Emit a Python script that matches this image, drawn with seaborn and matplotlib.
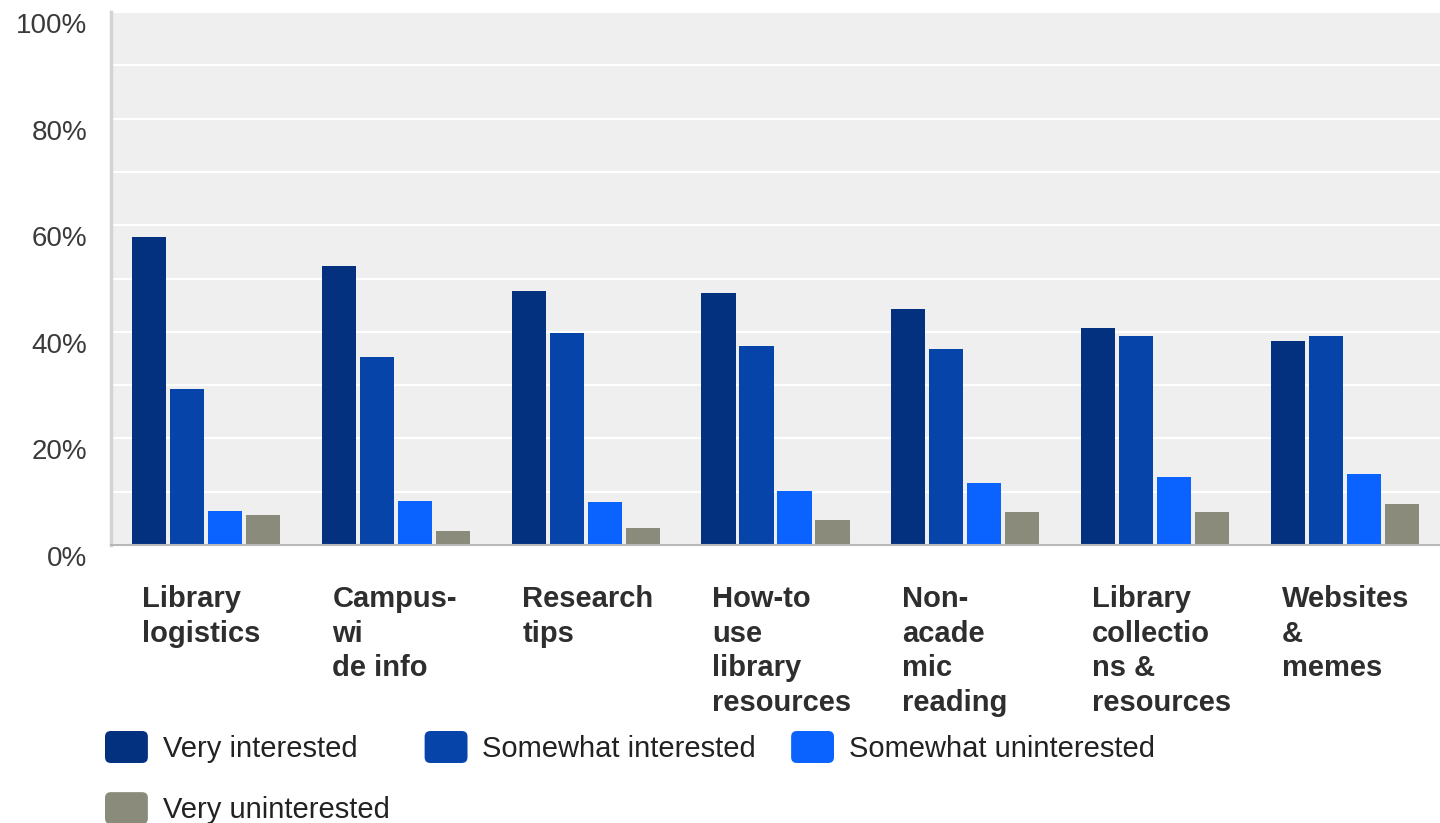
import pandas as pd
import seaborn as sns
import matplotlib.pyplot as plt
from matplotlib.transforms import ScaledTranslation
from matplotlib.ticker import MultipleLocator, FuncFormatter
from matplotlib.patches import Patch, FancyBboxPatch
from matplotlib.legend_handler import HandlerPatch

# Survey topics (labels keep their original line breaks)
topics = [
    "Library\nlogistics",
    "Campus-\nwi\nde info",
    "Research\ntips",
    "How-to\nuse\nlibrary\nresources",
    "Non-\nacade\nmic\nreading",
    "Library\ncollectio\nns &\nresources",
    "Websites\n&\nmemes",
]
levels = ["Very interested", "Somewhat interested",
          "Somewhat uninterested", "Very uninterested"]

# Share of respondents (%) per interest level
very_interested = [57.8, 52.3, 47.7, 47.3, 44.2, 40.7, 38.2]
somewhat_interested = [29.3, 35.3, 39.7, 37.3, 36.8, 39.3, 39.3]
somewhat_uninterested = [6.3, 8.3, 8.1, 10.2, 11.7, 12.7, 13.3]
very_uninterested = [5.6, 2.7, 3.1, 4.7, 6.1, 6.1, 7.7]

colors = ["#04317f", "#0644a9", "#0a62ff", "#8b8b7b"]
palette = dict(zip(levels, colors))

series = [very_interested, somewhat_interested,
          somewhat_uninterested, very_uninterested]
df = pd.DataFrame(
    [(t, lvl, v) for lvl, vals in zip(levels, series) for t, v in zip(topics, vals)],
    columns=["topic", "level", "share"],
)

plt.rcParams["font.family"] = ["Liberation Sans", "DejaVu Sans"]

fig = plt.figure(figsize=(14.4, 8.23), dpi=100)
ax = fig.add_axes([111 / 1440, 1 - 545 / 823, 1 - 111 / 1440, (545 - 12) / 823])
ax.set_facecolor("#efefef")

sns.barplot(data=df, x="topic", y="share", hue="level", order=topics,
            hue_order=levels, palette=palette, saturation=1, width=0.8,
            gap=0.1, legend=False, ax=ax, edgecolor="none")

ax.set_ylim(0, 100)
ax.set_xlim(-0.5, len(topics) - 0.5)
ax.set_xlabel("")
ax.set_ylabel("")

# Gridlines every 10 %, labels every 20 %
ax.yaxis.set_major_locator(MultipleLocator(20))
ax.yaxis.set_minor_locator(MultipleLocator(10))
ax.yaxis.set_major_formatter(FuncFormatter(lambda v, _: f"{v:.0f}%"))
ax.grid(axis="y", which="both", color="white", linewidth=1.6)
ax.set_axisbelow(True)
ax.tick_params(axis="y", which="both", length=0, pad=17, labelsize=20,
               labelcolor="#3a3a3a")
ax.tick_params(axis="x", length=0, pad=29, labelsize=21, labelcolor="#2e2e2e")

for lbl in ax.get_yticklabels():
    lbl.set_transform(lbl.get_transform()
                      + ScaledTranslation(0, -0.11, fig.dpi_scale_trans))

ax.set_xticks(range(len(topics)))
ax.set_xticklabels(topics, ha="left", va="top", fontweight="bold",
                   linespacing=1.3)
for lbl in ax.get_xticklabels():
    lbl.set_transform(lbl.get_transform()
                      + ScaledTranslation(-0.635, 0, fig.dpi_scale_trans))

for side in ("top", "right"):
    ax.spines[side].set_visible(False)
ax.spines["left"].set_color("#d4d4d4")
ax.spines["left"].set_linewidth(2.5)
ax.spines["bottom"].set_color("#b8b8b8")
ax.spines["bottom"].set_linewidth(1.5)


class RoundedSwatch(HandlerPatch):
    def create_artists(self, legend, orig_handle, xdescent, ydescent,
                       width, height, fontsize, trans):
        box = FancyBboxPatch(
            (-xdescent, -ydescent), width, height,
            boxstyle=f"round,pad=0,rounding_size={0.18 * height}",
            facecolor=orig_handle.get_facecolor(), edgecolor="none",
            transform=trans)
        return [box]


# Column-major fill: first column holds the two "Very" entries
legend_order = [levels[0], levels[3], levels[1], levels[2]]
handles = [Patch(facecolor=palette[l]) for l in legend_order]
fig.legend(handles, legend_order, loc="upper left",
           bbox_to_anchor=(105 / 1440, 1 - 731 / 823), ncol=3,
           frameon=False, fontsize=21, handlelength=1.47, handleheight=1.31,
           handletextpad=0.51, columnspacing=1.2, labelspacing=1.0,
           borderaxespad=0, borderpad=0, labelcolor="#222222",
           handler_map={Patch: RoundedSwatch()})

fig.savefig("out.png", dpi=100, facecolor="white")
